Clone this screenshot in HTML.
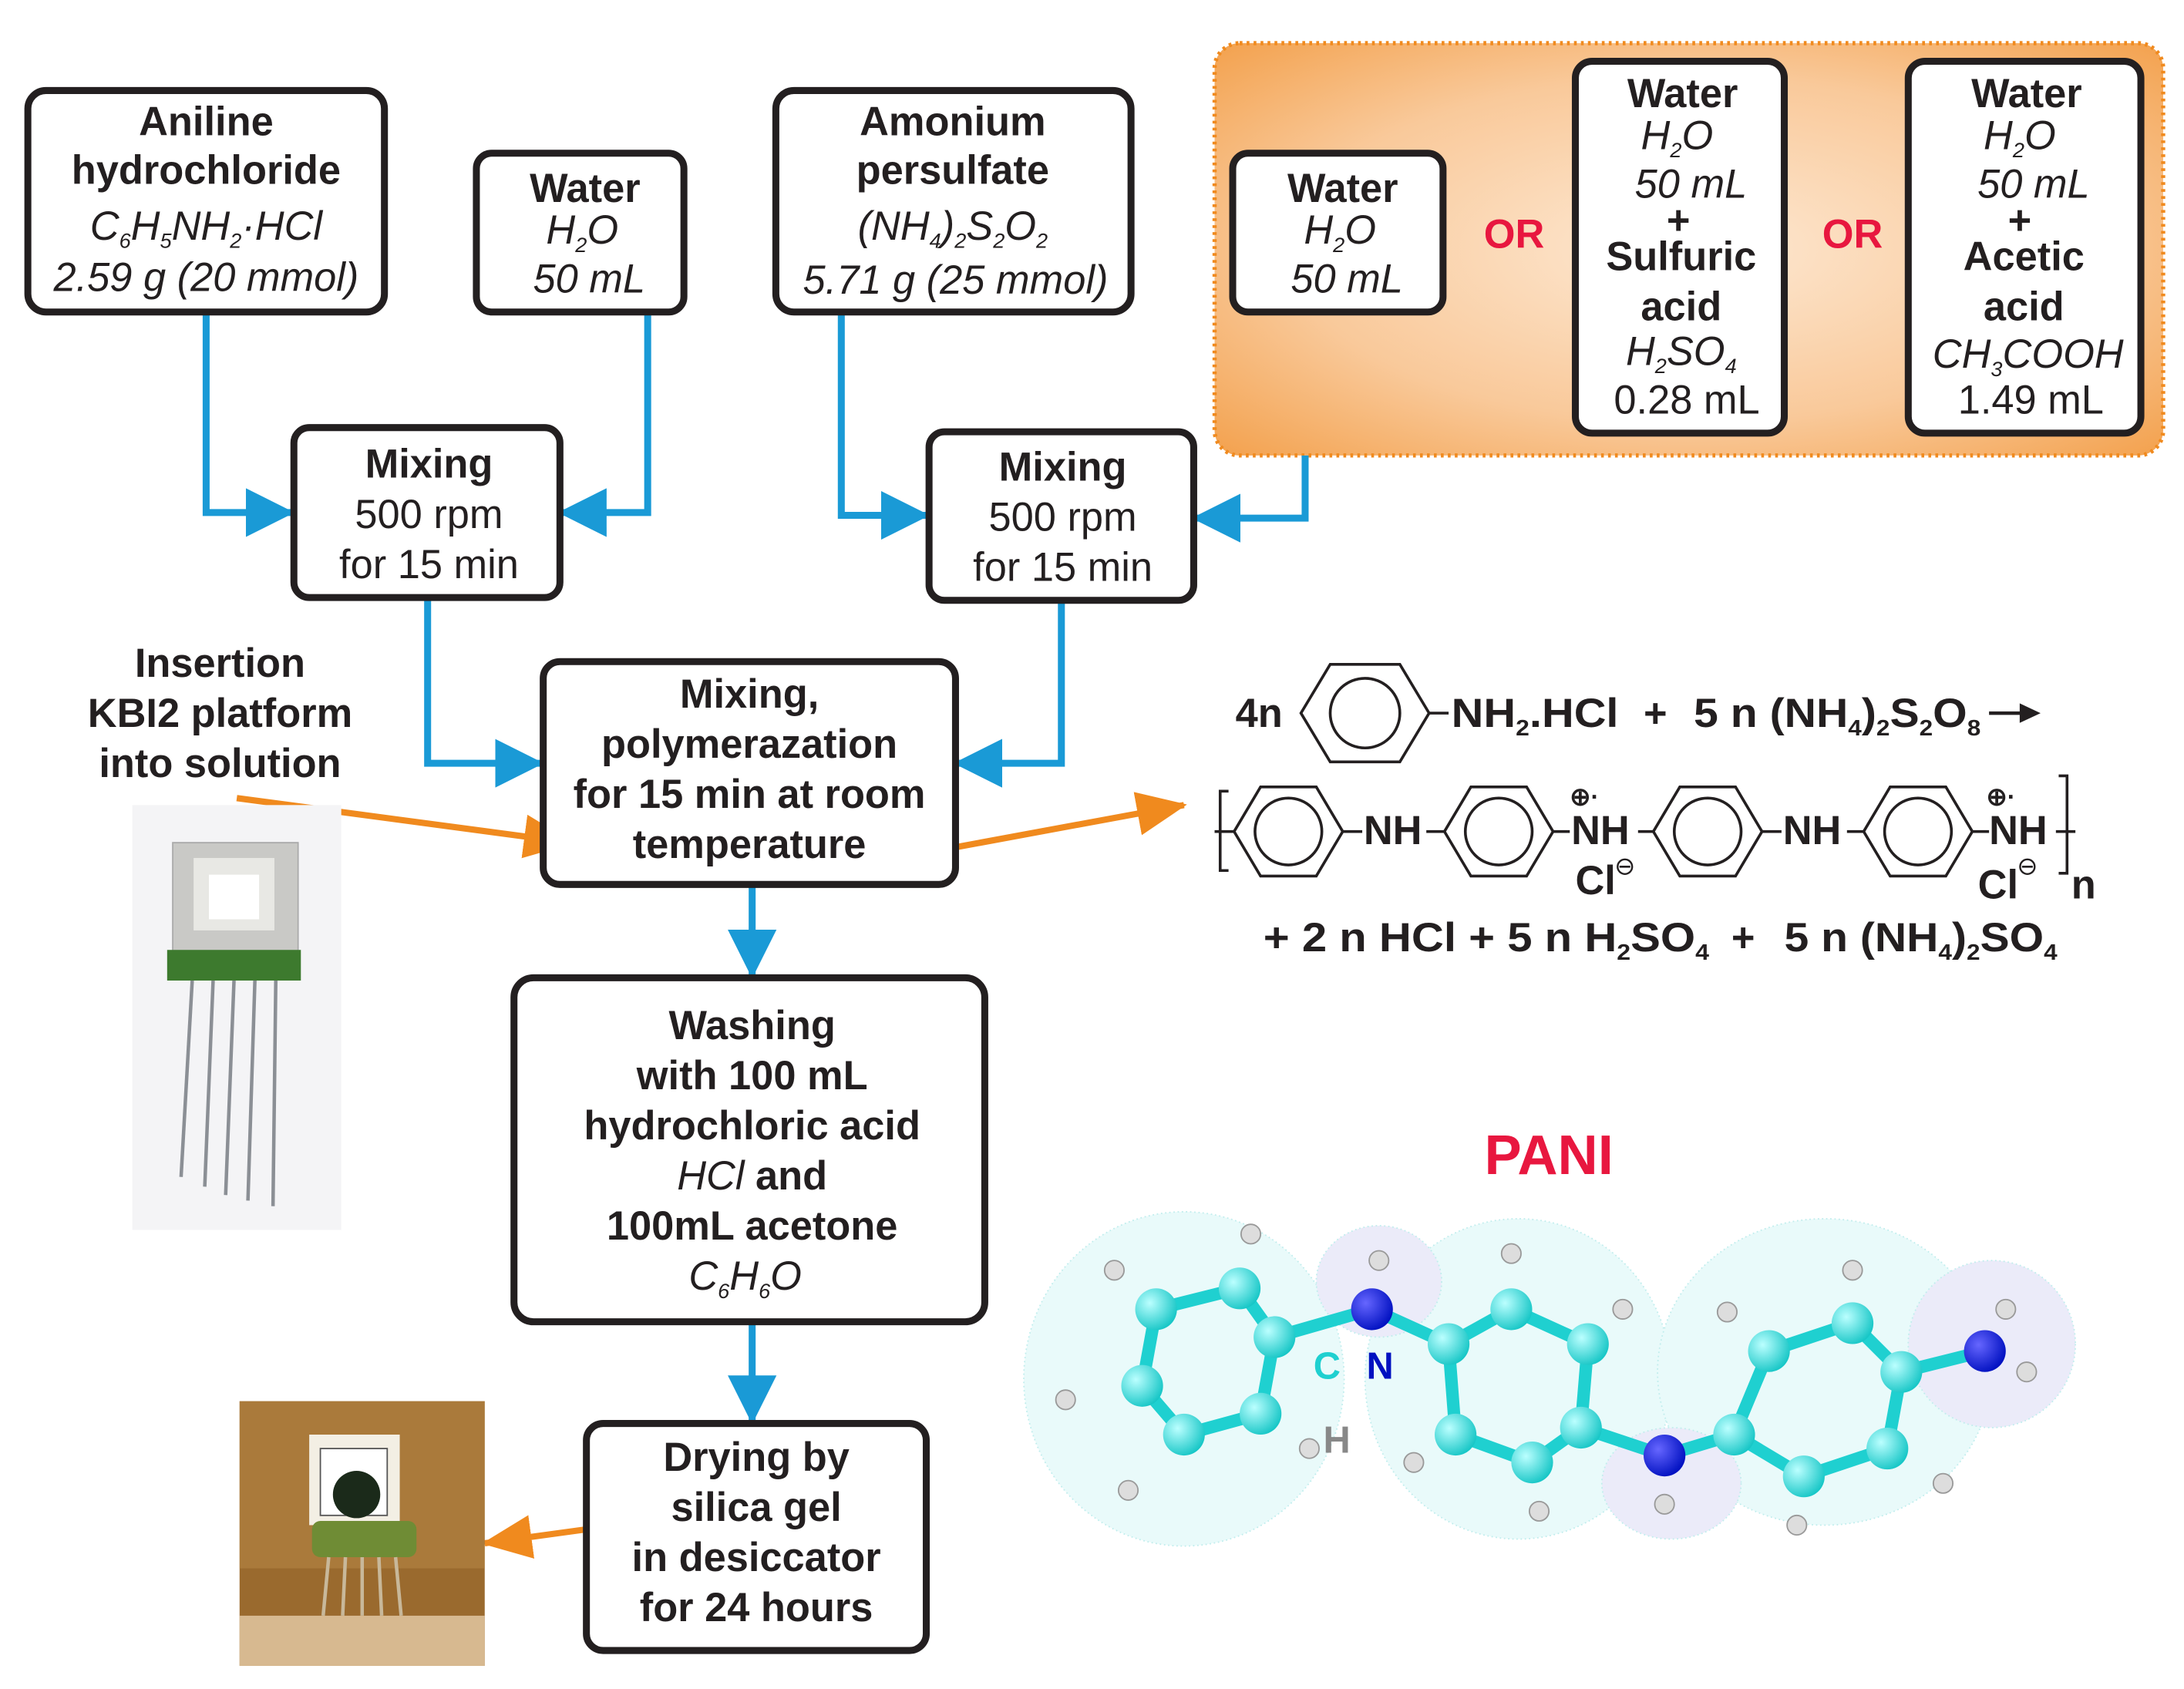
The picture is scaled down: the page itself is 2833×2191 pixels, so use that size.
<!DOCTYPE html>
<html><head><meta charset="utf-8"><style>
html,body{margin:0;padding:0;background:#fff;}
#w{width:2833px;height:2191px;overflow:hidden;position:relative;}
svg{position:absolute;left:0;top:0;transform-origin:0 0;transform:scale(1.8068);}
text{font-family:"Liberation Sans",sans-serif;fill:#231f20;}
.b{font-weight:bold;font-size:29px;}
.n{font-size:29px;}
.i{font-style:italic;font-size:29px;}
.c{font-weight:bold;font-size:29px;}
.box{fill:#fff;stroke:#231f20;stroke-width:5;}
.bl{fill:none;stroke:#1a9ad6;stroke-width:5;}
.or{fill:none;stroke:#f08a1e;stroke-width:4.5;}
.ring{fill:none;stroke:#231f20;stroke-width:2;}
</style></head><body><div id="w">
<svg width="1568" height="1213" viewBox="0 0 1568 1213">
<defs>
<radialGradient id="og" cx="0.5" cy="0.5" r="0.7"><stop offset="0" stop-color="#fde9d4"/><stop offset="0.6" stop-color="#f9c99a"/><stop offset="1" stop-color="#f3a24f"/></radialGradient>
<marker id="ba" markerWidth="7" markerHeight="7" refX="6.5" refY="3.5" orient="auto" markerUnits="strokeWidth"><path d="M0,0 L7,3.5 L0,7 z" fill="#1a9ad6"/></marker>
<marker id="oa" markerWidth="8" markerHeight="7" refX="7.5" refY="3.5" orient="auto" markerUnits="strokeWidth"><path d="M0,0 L8,3.5 L0,7 z" fill="#f08a1e"/></marker>
<radialGradient id="cg" cx="0.35" cy="0.35" r="0.7"><stop offset="0" stop-color="#bff"/><stop offset="1" stop-color="#16c6c6"/></radialGradient>
<radialGradient id="ng" cx="0.35" cy="0.35" r="0.7"><stop offset="0" stop-color="#66f"/><stop offset="1" stop-color="#0010c0"/></radialGradient>
</defs>
<rect x="872" y="31" width="681" height="296" rx="18" fill="url(#og)" stroke="#f08a1e" stroke-width="3" stroke-dasharray="2 3"/>
<polyline class="bl" points="148,225 148,368 209,368" marker-end="url(#ba)"/>
<polyline class="bl" points="465,225 465,368 403,368" marker-end="url(#ba)"/>
<polyline class="bl" points="604,225 604,370 665,370" marker-end="url(#ba)"/>
<polyline class="bl" points="937,327 937,372 858,372" marker-end="url(#ba)"/>
<polyline class="bl" points="307,430 307,548 388,548" marker-end="url(#ba)"/>
<polyline class="bl" points="762,432 762,548 687,548" marker-end="url(#ba)"/>
<line class="bl" x1="540" y1="636" x2="540" y2="700" marker-end="url(#ba)"/>
<line class="bl" x1="540" y1="950" x2="540" y2="1020" marker-end="url(#ba)"/>
<line class="or" x1="170" y1="573" x2="410" y2="605" marker-end="url(#oa)"/>
<line class="or" x1="666" y1="612" x2="850" y2="578" marker-end="url(#oa)"/>
<line class="or" x1="443" y1="1095" x2="348" y2="1108" marker-end="url(#oa)"/>
<rect class="box" x="20" y="65" width="256" height="159" rx="13"/>
<text class="b" x="148" y="97" text-anchor="middle">Aniline</text>
<text class="b" x="148" y="132" text-anchor="middle">hydrochloride</text>
<text class="i" x="148" y="172" text-anchor="middle">C<tspan font-size="15" dy="6">6</tspan><tspan dy="-6">H</tspan><tspan font-size="15" dy="6">5</tspan><tspan dy="-6">NH</tspan><tspan font-size="15" dy="6">2</tspan><tspan dy="-6">·HCl</tspan></text>
<text class="i" x="148" y="209" text-anchor="middle">2.59 g (20 mmol)</text>
<rect class="box" x="342" y="110" width="149" height="114" rx="11"/>
<text class="b" x="420" y="145" text-anchor="middle">Water</text>
<text class="i" x="418" y="175" text-anchor="middle">H<tspan font-size="15" dy="6">2</tspan><tspan dy="-6">O</tspan></text>
<text class="i" x="423" y="210" text-anchor="middle">50 mL</text>
<rect class="box" x="557" y="65" width="255" height="159" rx="13"/>
<text class="b" x="684" y="97" text-anchor="middle">Amonium</text>
<text class="b" x="684" y="132" text-anchor="middle">persulfate</text>
<text class="i" x="684" y="172" text-anchor="middle">(NH<tspan font-size="15" dy="6">4</tspan><tspan dy="-6">)</tspan><tspan font-size="15" dy="6">2</tspan><tspan dy="-6">S</tspan><tspan font-size="15" dy="6">2</tspan><tspan dy="-6">O</tspan><tspan font-size="15" dy="6">2</tspan></text>
<text class="i" x="686" y="211" text-anchor="middle">5.71 g (25 mmol)</text>
<rect class="box" x="885" y="110" width="151" height="114" rx="11"/>
<text class="b" x="964" y="145" text-anchor="middle">Water</text>
<text class="i" x="962" y="175" text-anchor="middle">H<tspan font-size="15" dy="6">2</tspan><tspan dy="-6">O</tspan></text>
<text class="i" x="967" y="210" text-anchor="middle">50 mL</text>
<text class="b" x="1087" y="178" text-anchor="middle" style="fill:#e8173f">OR</text>
<text class="b" x="1330" y="178" text-anchor="middle" style="fill:#e8173f">OR</text>
<rect class="box" x="1131" y="44" width="150" height="267" rx="12"/>
<text class="b" x="1208" y="77" text-anchor="middle">Water</text>
<text class="i" x="1204" y="107" text-anchor="middle">H<tspan font-size="15" dy="6">2</tspan><tspan dy="-6">O</tspan></text>
<text class="i" x="1214" y="142" text-anchor="middle">50 mL</text>
<text class="b" x="1205" y="168" text-anchor="middle">+</text>
<text class="b" x="1207" y="194" text-anchor="middle">Sulfuric</text>
<text class="b" x="1207" y="230" text-anchor="middle">acid</text>
<text class="i" x="1207" y="262" text-anchor="middle">H<tspan font-size="15" dy="6">2</tspan><tspan dy="-6">SO</tspan><tspan font-size="15" dy="6">4</tspan></text>
<text class="n" x="1211" y="297" text-anchor="middle">0.28 mL</text>
<rect class="box" x="1370" y="44" width="167" height="267" rx="12"/>
<text class="b" x="1455" y="77" text-anchor="middle">Water</text>
<text class="i" x="1450" y="107" text-anchor="middle">H<tspan font-size="15" dy="6">2</tspan><tspan dy="-6">O</tspan></text>
<text class="i" x="1460" y="142" text-anchor="middle">50 mL</text>
<text class="b" x="1450" y="168" text-anchor="middle">+</text>
<text class="b" x="1453" y="194" text-anchor="middle">Acetic</text>
<text class="b" x="1453" y="230" text-anchor="middle">acid</text>
<text class="i" x="1456" y="264" text-anchor="middle">CH<tspan font-size="15" dy="6">3</tspan><tspan dy="-6">COOH</tspan></text>
<text class="n" x="1458" y="297" text-anchor="middle">1.49 mL</text>
<rect class="box" x="211" y="307" width="191" height="122" rx="11"/>
<text class="b" x="308" y="343" text-anchor="middle">Mixing</text>
<text class="n" x="308" y="379" text-anchor="middle">500 rpm</text>
<text class="n" x="308" y="415" text-anchor="middle">for 15 min</text>
<rect class="box" x="667" y="310" width="190" height="121" rx="11"/>
<text class="b" x="763" y="345" text-anchor="middle">Mixing</text>
<text class="n" x="763" y="381" text-anchor="middle">500 rpm</text>
<text class="n" x="763" y="417" text-anchor="middle">for 15 min</text>
<rect class="box" x="390" y="475" width="296" height="160" rx="12"/>
<text class="b" x="538" y="508" text-anchor="middle">Mixing,</text>
<text class="b" x="538" y="544" text-anchor="middle">polymerazation</text>
<text class="b" x="538" y="580" text-anchor="middle">for 15 min at room</text>
<text class="b" x="538" y="616" text-anchor="middle">temperature</text>
<rect class="box" x="369" y="702" width="338" height="247" rx="14"/>
<text class="b" x="540" y="746" text-anchor="middle">Washing</text>
<text class="b" x="540" y="782" text-anchor="middle">with 100 mL</text>
<text class="b" x="540" y="818" text-anchor="middle">hydrochloric acid</text>
<text class="i" x="540" y="854" text-anchor="middle">HCl <tspan font-style="normal" font-weight="bold">and</tspan></text>
<text class="b" x="540" y="890" text-anchor="middle">100mL acetone</text>
<text class="i" x="535" y="926" text-anchor="middle">C<tspan font-size="15" dy="6">6</tspan><tspan dy="-6">H</tspan><tspan font-size="15" dy="6">6</tspan><tspan dy="-6">O</tspan></text>
<rect class="box" x="421" y="1022" width="244" height="163" rx="12"/>
<text class="b" x="543" y="1056" text-anchor="middle">Drying by</text>
<text class="b" x="543" y="1092" text-anchor="middle">silica gel</text>
<text class="b" x="543" y="1128" text-anchor="middle">in desiccator</text>
<text class="b" x="543" y="1164" text-anchor="middle">for 24 hours</text>
<text class="b" x="158" y="486" text-anchor="middle">Insertion</text>
<text class="b" x="158" y="522" text-anchor="middle">KBI2 platform</text>
<text class="b" x="158" y="558" text-anchor="middle">into solution</text>
<rect x="95" y="578" width="150" height="305" fill="#f4f4f6"/>
<rect x="124" y="605" width="90" height="82" fill="#c9c9c6" stroke="#aaa"/>
<rect x="139" y="616" width="58" height="52" fill="#e8e8e4"/>
<rect x="150" y="628" width="36" height="32" fill="#fff"/>
<rect x="120" y="682" width="96" height="22" fill="#3d7a2e"/>
<g stroke="#8b8f95" stroke-width="2.5" fill="none">
<path d="M138,704 L130,845"/><path d="M153,704 L147,852"/><path d="M168,704 L162,858"/><path d="M183,704 L178,862"/><path d="M198,704 L196,866"/></g>
<rect x="172" y="1006" width="176" height="190" fill="#9a6a2e"/>
<rect x="172" y="1006" width="176" height="120" fill="#b68545" opacity="0.6"/>
<rect x="222" y="1030" width="65" height="65" fill="#f3efe4"/>
<rect x="230" y="1040" width="48" height="48" fill="#fff" stroke="#555"/>
<circle cx="256" cy="1073" r="17" fill="#1b2a1a"/>
<rect x="224" y="1092" width="75" height="26" rx="6" fill="#6f8c35"/>
<g stroke="#c8b89a" stroke-width="2.5"><line x1="236" y1="1118" x2="232" y2="1160"/><line x1="248" y1="1118" x2="246" y2="1160"/><line x1="260" y1="1118" x2="260" y2="1160"/><line x1="272" y1="1118" x2="274" y2="1160"/><line x1="284" y1="1118" x2="288" y2="1160"/></g>
<rect x="172" y="1160" width="176" height="36" fill="#d7b990"/>
<!-- reaction -->
<text class="c" x="887" y="522">4n</text>
<polygon class="ring" points="934,512 955,477 1005,477 1026,512 1005,547 955,547"/>
<circle class="ring" cx="980" cy="512" r="25"/>
<line x1="1026" y1="512" x2="1040" y2="512" stroke="#231f20" stroke-width="2"/>
<text class="c" x="1042" y="522" textLength="120" lengthAdjust="spacingAndGlyphs">NH<tspan font-size="16" dy="6">2</tspan><tspan dy="-6">.HCl</tspan></text>
<text class="c" x="1180" y="522">+</text>
<text class="c" x="1216" y="522" textLength="206" lengthAdjust="spacingAndGlyphs">5 n (NH<tspan font-size="16" dy="6">4</tspan><tspan dy="-6">)</tspan><tspan font-size="16" dy="6">2</tspan><tspan dy="-6">S</tspan><tspan font-size="16" dy="6">2</tspan><tspan dy="-6">O</tspan><tspan font-size="16" dy="6">8</tspan></text>
<line x1="1428" y1="512" x2="1456" y2="512" stroke="#231f20" stroke-width="2.5"/>
<path d="M1450,505 L1465,512 L1450,519 z" fill="#231f20"/>
<path d="M882,568 L876,568 L876,625 L882,625" fill="none" stroke="#231f20" stroke-width="2"/>
<line x1="872" y1="597" x2="886" y2="597" stroke="#231f20" stroke-width="2"/>
<g class="ring">
<polygon points="886,597 905,565 945,565 964,597 945,629 905,629"/><circle cx="925" cy="597" r="24"/>
<polygon points="1037,597 1056,565 1096,565 1115,597 1096,629 1056,629"/><circle cx="1076" cy="597" r="24"/>
<polygon points="1187,597 1206,565 1246,565 1265,597 1246,629 1206,629"/><circle cx="1226" cy="597" r="24"/>
<polygon points="1338,597 1357,565 1397,565 1416,597 1397,629 1357,629"/><circle cx="1377" cy="597" r="24"/>
</g>
<line x1="964" y1="597" x2="978" y2="597" stroke="#231f20" stroke-width="2"/>
<text class="c" x="979" y="606">NH</text>
<line x1="1024" y1="597" x2="1037" y2="597" stroke="#231f20" stroke-width="2"/>
<line x1="1115" y1="597" x2="1127" y2="597" stroke="#231f20" stroke-width="2"/>
<text class="c" x="1128" y="606">NH</text>
<text x="1127" y="578" font-size="18" font-weight="bold">⊕·</text>
<line x1="1176" y1="597" x2="1187" y2="597" stroke="#231f20" stroke-width="2"/>
<text class="c" x="1131" y="642">Cl</text><text x="1159" y="628" font-size="18">⊖</text>
<line x1="1265" y1="597" x2="1279" y2="597" stroke="#231f20" stroke-width="2"/>
<text class="c" x="1280" y="606">NH</text>
<line x1="1326" y1="597" x2="1338" y2="597" stroke="#231f20" stroke-width="2"/>
<line x1="1416" y1="597" x2="1428" y2="597" stroke="#231f20" stroke-width="2"/>
<text class="c" x="1428" y="606">NH</text>
<text x="1426" y="578" font-size="18" font-weight="bold">⊕·</text>
<line x1="1476" y1="597" x2="1490" y2="597" stroke="#231f20" stroke-width="2"/>
<path d="M1478,557 L1484,557 L1484,627 L1478,627" fill="none" stroke="#231f20" stroke-width="2"/>
<text class="c" x="1420" y="645">Cl</text><text x="1448" y="628" font-size="18">⊖</text>
<text class="c" x="1487" y="645">n</text>
<text class="c" x="907" y="683" textLength="320" lengthAdjust="spacingAndGlyphs">+ 2 n HCl + 5 n H<tspan font-size="16" dy="6">2</tspan><tspan dy="-6">SO</tspan><tspan font-size="16" dy="6">4</tspan></text>
<text class="c" x="1243" y="683">+</text>
<text class="c" x="1281" y="683" textLength="196" lengthAdjust="spacingAndGlyphs">5 n (NH<tspan font-size="16" dy="6">4</tspan><tspan dy="-6">)</tspan><tspan font-size="16" dy="6">2</tspan><tspan dy="-6">SO</tspan><tspan font-size="16" dy="6">4</tspan></text>
<text x="1112" y="843" text-anchor="middle" font-size="40" font-weight="bold" style="fill:#e8173f">PANI</text>
<g opacity="0.55" fill="#d8f6f6" stroke="#8fe0e0" stroke-width="1" stroke-dasharray="1 2">
<ellipse cx="850" cy="990" rx="115" ry="120"/><ellipse cx="1090" cy="990" rx="110" ry="115"/><ellipse cx="1310" cy="985" rx="120" ry="110"/><ellipse cx="1430" cy="965" rx="60" ry="60" fill="#dcdcf5"/><ellipse cx="990" cy="920" rx="45" ry="40" fill="#dcdcf5"/><ellipse cx="1200" cy="1065" rx="50" ry="40" fill="#dcdcf5"/>
</g>
<g stroke="#1fd0d0" stroke-width="9" fill="none" stroke-linecap="round">
<polyline points="830,940 890,925 915,960 905,1015 850,1030 820,995 830,940"/>
<polyline points="915,960 985,940 1040,965 1085,940 1140,965 1135,1025 1100,1050 1045,1030 1040,965"/>
<polyline points="1135,1025 1195,1045 1245,1030 1270,970 1330,950 1365,985 1355,1040 1295,1060 1245,1030"/>
<polyline points="1365,985 1425,970"/>
</g>
<g fill="url(#cg)">
<circle cx="830" cy="940" r="15"/><circle cx="890" cy="925" r="15"/><circle cx="915" cy="960" r="15"/><circle cx="905" cy="1015" r="15"/><circle cx="850" cy="1030" r="15"/><circle cx="820" cy="995" r="15"/>
<circle cx="1040" cy="965" r="15"/><circle cx="1085" cy="940" r="15"/><circle cx="1140" cy="965" r="15"/><circle cx="1135" cy="1025" r="15"/><circle cx="1100" cy="1050" r="15"/><circle cx="1045" cy="1030" r="15"/>
<circle cx="1245" cy="1030" r="15"/><circle cx="1270" cy="970" r="15"/><circle cx="1330" cy="950" r="15"/><circle cx="1365" cy="985" r="15"/><circle cx="1355" cy="1040" r="15"/><circle cx="1295" cy="1060" r="15"/>
</g>
<g fill="url(#ng)"><circle cx="985" cy="940" r="15"/><circle cx="1195" cy="1045" r="15"/><circle cx="1425" cy="970" r="15"/></g>
<g fill="#ddd" stroke="#999"><circle cx="800" cy="912" r="7"/><circle cx="898" cy="886" r="7"/><circle cx="990" cy="905" r="7"/><circle cx="1085" cy="900" r="7"/><circle cx="1165" cy="940" r="7"/><circle cx="1015" cy="1050" r="7"/><circle cx="1105" cy="1085" r="7"/><circle cx="1240" cy="942" r="7"/><circle cx="1330" cy="912" r="7"/><circle cx="1395" cy="1065" r="7"/><circle cx="1290" cy="1095" r="7"/><circle cx="1195" cy="1080" r="7"/><circle cx="1440" cy="940" r="7"/><circle cx="1455" cy="985" r="7"/><circle cx="765" cy="1005" r="7"/><circle cx="810" cy="1070" r="7"/><circle cx="940" cy="1040" r="7"/></g>
<text x="943" y="990" font-size="27" font-weight="bold" style="fill:#1fd0d0">C</text>
<text x="981" y="990" font-size="27" font-weight="bold" style="fill:#0010c0">N</text>
<text x="950" y="1043" font-size="27" font-weight="bold" style="fill:#888">H</text>
</svg></div></body></html>
